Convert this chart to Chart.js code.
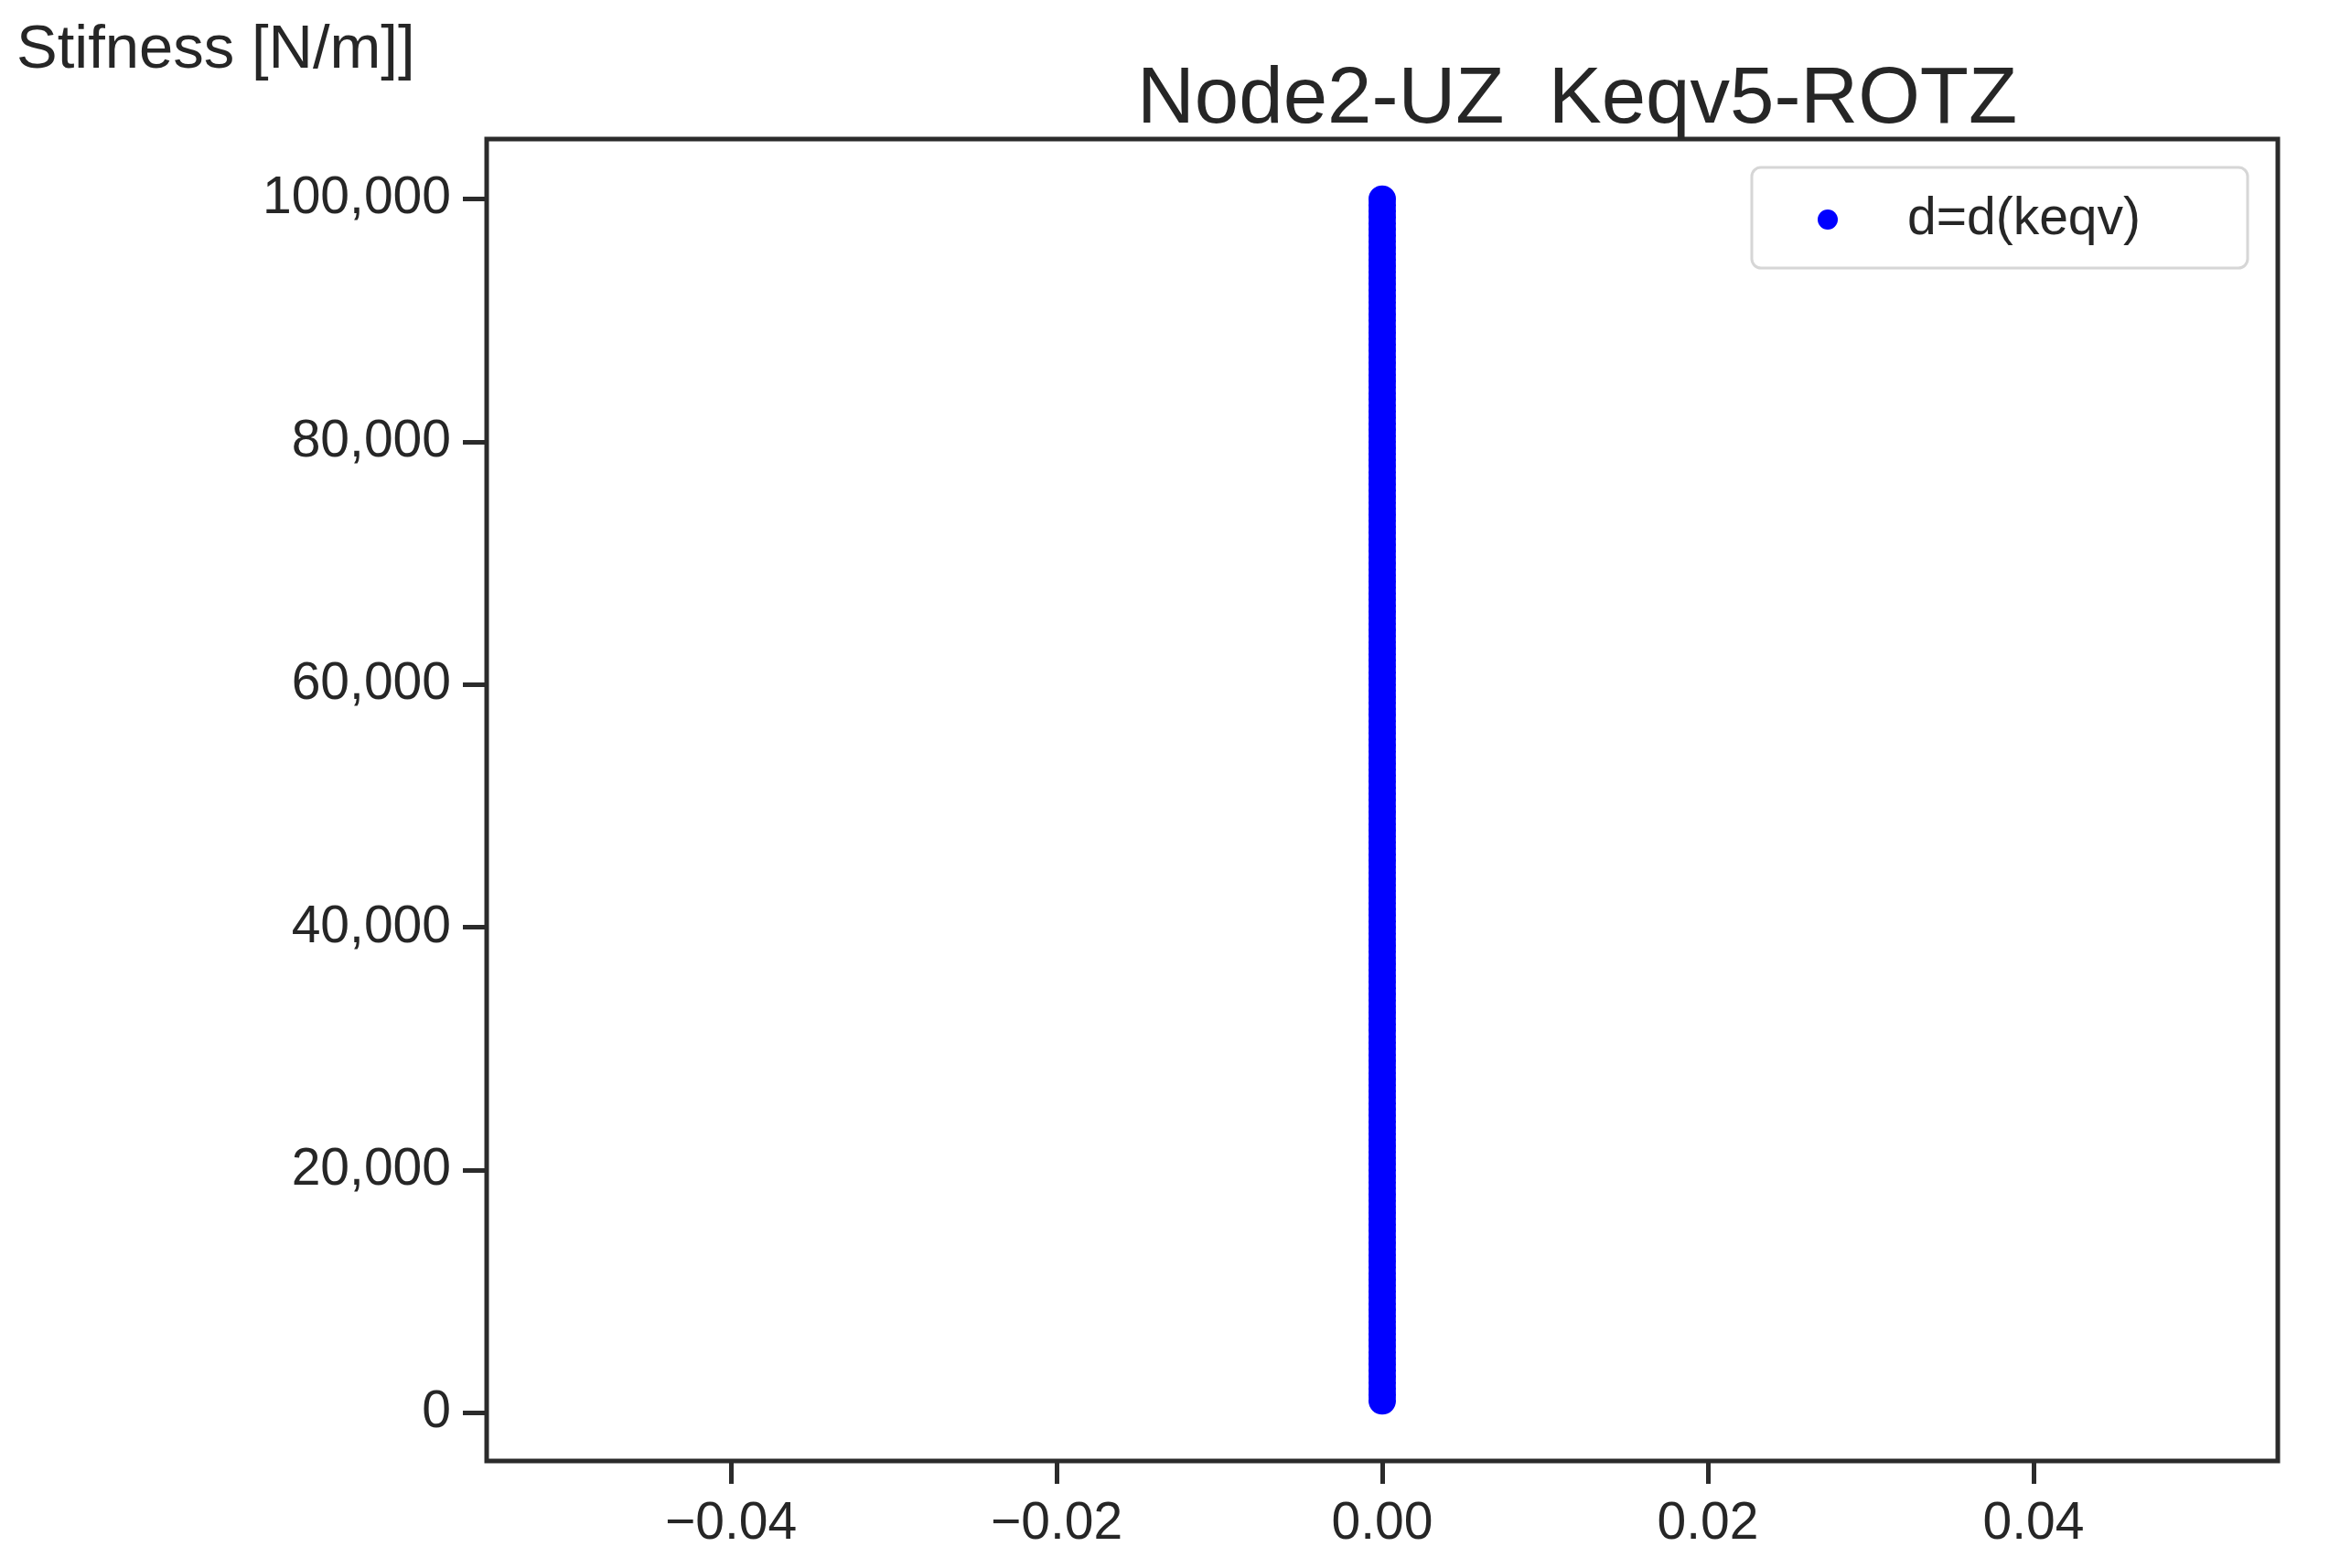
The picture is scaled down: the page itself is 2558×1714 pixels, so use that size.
<!DOCTYPE html>
<html>
<head>
<meta charset="utf-8">
<title>Node2-UZ  Keqv5-ROTZ</title>
<script src="https://cdn.jsdelivr.net/npm/chart.js@4.4.1/dist/chart.umd.min.js"></script>
<style>
  html, body { margin: 0; padding: 0; background: #fff; }
  #wrap { width: 2558px; height: 1714px; position: relative; }
</style>
</head>
<body>
<div id="wrap"><canvas id="stiffness_canvas"></canvas></div>
<script>
const chartTitle = 'Node2-UZ  Keqv5-ROTZ';
const yAxisLabel = 'Stifness [N/m]]';
const seriesLabel = 'd=d(keqv)';

// stiffness values of the sweep [N/m]
const stiffness = [
    1000, 1500, 2000, 2500, 3000, 3500, 4000, 4500, 5000, 5500,
    6000, 6500, 7000, 7500, 8000, 8500, 9000, 9500, 10000, 10500,
    11000, 11500, 12000, 12500, 13000, 13500, 14000, 14500, 15000, 15500,
    16000, 16500, 17000, 17500, 18000, 18500, 19000, 19500, 20000, 20500,
    21000, 21500, 22000, 22500, 23000, 23500, 24000, 24500, 25000, 25500,
    26000, 26500, 27000, 27500, 28000, 28500, 29000, 29500, 30000, 30500,
    31000, 31500, 32000, 32500, 33000, 33500, 34000, 34500, 35000, 35500,
    36000, 36500, 37000, 37500, 38000, 38500, 39000, 39500, 40000, 40500,
    41000, 41500, 42000, 42500, 43000, 43500, 44000, 44500, 45000, 45500,
    46000, 46500, 47000, 47500, 48000, 48500, 49000, 49500, 50000, 50500,
    51000, 51500, 52000, 52500, 53000, 53500, 54000, 54500, 55000, 55500,
    56000, 56500, 57000, 57500, 58000, 58500, 59000, 59500, 60000, 60500,
    61000, 61500, 62000, 62500, 63000, 63500, 64000, 64500, 65000, 65500,
    66000, 66500, 67000, 67500, 68000, 68500, 69000, 69500, 70000, 70500,
    71000, 71500, 72000, 72500, 73000, 73500, 74000, 74500, 75000, 75500,
    76000, 76500, 77000, 77500, 78000, 78500, 79000, 79500, 80000, 80500,
    81000, 81500, 82000, 82500, 83000, 83500, 84000, 84500, 85000, 85500,
    86000, 86500, 87000, 87500, 88000, 88500, 89000, 89500, 90000, 90500,
    91000, 91500, 92000, 92500, 93000, 93500, 94000, 94500, 95000, 95500,
    96000, 96500, 97000, 97500, 98000, 98500, 99000, 99500, 100000
];

// resulting displacement d for each stiffness (all zero here)
const displacement = [
    0, 0, 0, 0, 0, 0, 0, 0, 0, 0,  0, 0, 0, 0, 0, 0, 0, 0, 0, 0,
    0, 0, 0, 0, 0, 0, 0, 0, 0, 0,  0, 0, 0, 0, 0, 0, 0, 0, 0, 0,
    0, 0, 0, 0, 0, 0, 0, 0, 0, 0,  0, 0, 0, 0, 0, 0, 0, 0, 0, 0,
    0, 0, 0, 0, 0, 0, 0, 0, 0, 0,  0, 0, 0, 0, 0, 0, 0, 0, 0, 0,
    0, 0, 0, 0, 0, 0, 0, 0, 0, 0,  0, 0, 0, 0, 0, 0, 0, 0, 0, 0,
    0, 0, 0, 0, 0, 0, 0, 0, 0, 0,  0, 0, 0, 0, 0, 0, 0, 0, 0, 0,
    0, 0, 0, 0, 0, 0, 0, 0, 0, 0,  0, 0, 0, 0, 0, 0, 0, 0, 0, 0,
    0, 0, 0, 0, 0, 0, 0, 0, 0, 0,  0, 0, 0, 0, 0, 0, 0, 0, 0, 0,
    0, 0, 0, 0, 0, 0, 0, 0, 0, 0,  0, 0, 0, 0, 0, 0, 0, 0, 0, 0,
    0, 0, 0, 0, 0, 0, 0, 0, 0, 0,  0, 0, 0, 0, 0, 0, 0, 0, 0
];

const xTicks = [-0.04, -0.02, 0, 0.02, 0.04];
const yTicks = [0, 20000, 40000, 60000, 80000, 100000];
const xRange = [-0.055, 0.055];
const yRange = [-3950, 104950];

const textColor = '#262626';
const axisColor = '#2b2b2b';
const fontFamily = '"Liberation Sans", Arial, sans-serif';

const points = stiffness.map((k, i) => ({ x: displacement[i], y: k }));

// rahmen um den plotbereich + titel + legende (wie matplotlib)
const decorations = {
    id: 'decorations',
    afterDraw(chart) {
        const c = chart.ctx;
        const area = chart.chartArea;
        c.save();

        c.strokeStyle = axisColor;
        c.lineWidth = 5;
        c.strokeRect(area.left, area.top, area.right - area.left, area.bottom - area.top);

        c.fillStyle = textColor;
        c.textBaseline = 'alphabetic';
        c.textAlign = 'left';
        c.font = '67px ' + fontFamily;
        c.fillText(yAxisLabel, 18, 74);

        c.textAlign = 'center';
        c.font = '87px ' + fontFamily;
        c.fillText(chartTitle, chart.width * 0.674, 134);

        // legende oben rechts
        const ds = chart.data.datasets[0];
        const boxRight = area.right - 33;
        const boxLeft = boxRight - 542;
        const boxTop = area.top + 31;
        const boxH = 110;
        c.beginPath();
        c.roundRect(boxLeft, boxTop, boxRight - boxLeft, boxH, 10);
        c.fillStyle = 'rgba(255,255,255,0.9)';
        c.fill();
        c.strokeStyle = '#d6d6d6';
        c.lineWidth = 3;
        c.stroke();

        const midY = boxTop + boxH / 2 + 2;
        c.beginPath();
        c.arc(boxLeft + 83, midY, 11, 0, Math.PI * 2);
        c.fillStyle = ds.backgroundColor;
        c.fill();

        c.fillStyle = textColor;
        c.textAlign = 'left';
        c.textBaseline = 'middle';
        c.font = '57px ' + fontFamily;
        c.fillText(ds.label, boxLeft + 170, midY);

        c.restore();
    }
};

const ctx = document.getElementById('stiffness_canvas');

const stiffnessChart = new Chart(ctx, {
    type: 'scatter',
    data: {
        datasets: [{
            label: seriesLabel,
            data: points,
            backgroundColor: 'rgb(0, 0, 255)',
            borderWidth: 0,
            pointRadius: 15,
            pointHoverRadius: 15
        }]
    },
    options: {
        responsive: true,
        maintainAspectRatio: false,
        animation: false,
        devicePixelRatio: 1,
        layout: {
            padding: { top: 152, right: 68, left: 0, bottom: 0 }
        },
        plugins: {
            legend: { display: false },
            tooltip: { enabled: false },
            title: { display: false }
        },
        scales: {
            x: {
                type: 'linear',
                min: xRange[0],
                max: xRange[1],
                afterFit: (scale) => { scale.height = 117; },
                afterBuildTicks: (scale) => { scale.ticks = xTicks.map(v => ({ value: v })); },
                border: { display: false },
                grid: {
                    drawOnChartArea: false,
                    tickLength: 25,
                    tickWidth: 5,
                    tickColor: axisColor
                },
                ticks: {
                    padding: 10,
                    color: textColor,
                    font: { family: fontFamily, size: 57 },
                    callback: (v) => v.toFixed(2).replace('-', '\u2212')
                }
            },
            y: {
                type: 'linear',
                min: yRange[0],
                max: yRange[1],
                afterFit: (scale) => { scale.width = 532; },
                afterBuildTicks: (scale) => { scale.ticks = yTicks.map(v => ({ value: v })); },
                border: { display: false },
                grid: {
                    drawOnChartArea: false,
                    tickLength: 26,
                    tickWidth: 5,
                    tickColor: axisColor
                },
                ticks: {
                    padding: 13,
                    color: textColor,
                    font: { family: fontFamily, size: 57 },
                    callback: (v) => v.toLocaleString('en-US')
                }
            }
        }
    },
    plugins: [decorations]
});
</script>
</body>
</html>
